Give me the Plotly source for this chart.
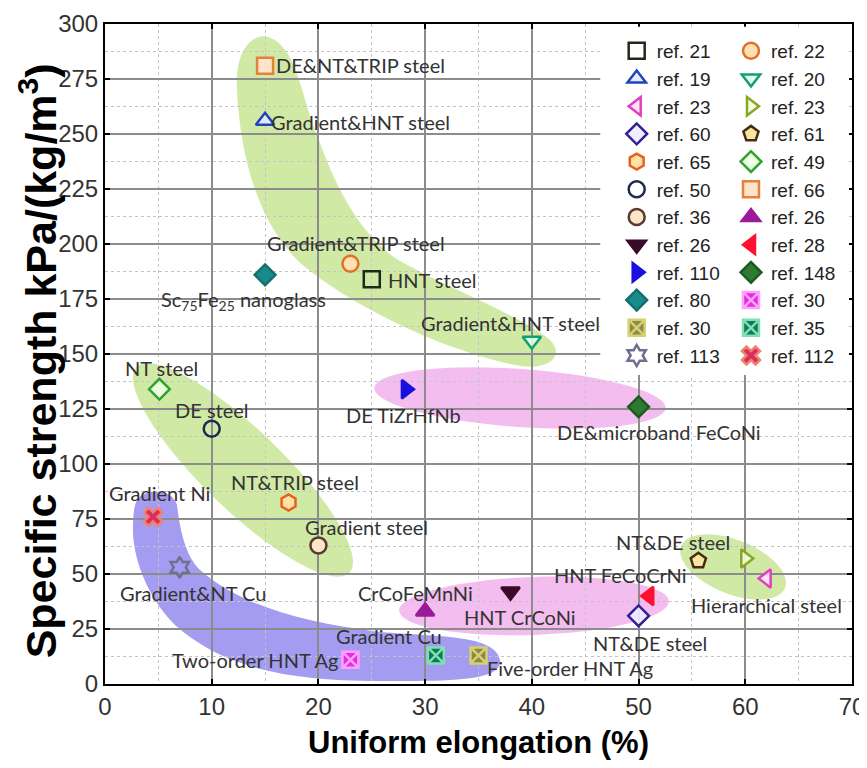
import numpy as np
import plotly.graph_objects as go

# ---------------- data ----------------
# left legend column
left_refs = ["ref. 21", "ref. 19", "ref. 23", "ref. 60", "ref. 65", "ref. 50",
             "ref. 36", "ref. 26", "ref. 110", "ref. 80", "ref. 30", "ref. 113"]
left_x = [25, 15, 62, 50, 17.2, 10, 20, 38, 28.2, 15, 35, 7]
left_y = [184, 256, 48, 31, 82.5, 116, 63, 42, 134, 186, 13, 53]

# right legend column
right_refs = ["ref. 22", "ref. 20", "ref. 23", "ref. 61", "ref. 49", "ref. 66",
              "ref. 26", "ref. 28", "ref. 148", "ref. 30", "ref. 35", "ref. 112"]
right_x = [23, 40, 60, 55.6, 5.1, 15, 30, 51, 50, 23, 31, 4.5]
right_y = [191, 156, 57, 56, 134, 281, 33, 40, 126, 11, 13, 76]

# material labels
label_text = ["DE&NT&TRIP steel", "Gradient&HNT steel", "Gradient&TRIP steel", "HNT steel",
              "Sc<sub>75</sub>Fe<sub>25</sub> nanoglass", "Gradient&HNT steel", "NT steel", "DE steel",
              "NT&TRIP steel", "Gradient steel", "Gradient Ni", "Gradient&NT Cu", "DE TiZrHfNb",
              "DE&microband FeCoNi", "CrCoFeMnNi", "HNT CrCoNi", "HNT FeCoCrNi", "NT&DE steel",
              "NT&DE steel", "Hierarchical steel", "Gradient Cu", "Two-order HNT Ag", "Five-order HNT Ag"]
label_x = [23.9, 23.9, 23.5, 30.7, 13.0, 38.0, 5.25, 10.0, 17.8, 24.5, 5.06, 8.2, 28.0,
           51.9, 29.1, 38.9, 48.3, 51.1, 53.2, 62.0, 26.6, 14.1, 43.6]
label_y = [281.4, 255.5, 200.4, 183.6, 174.5, 164.0, 143.6, 124.5, 92.0, 71.4, 86.8, 41.4, 122.3,
           114.5, 41.4, 30.5, 49.5, 18.6, 64.6, 35.9, 21.8, 10.9, 7.3]

x_ticks = [0, 10, 20, 30, 40, 50, 60, 70]
y_ticks = [0, 25, 50, 75, 100, 125, 150, 175, 200, 225, 250, 275, 300]

x_title = "<b>Uniform elongation (%)</b>"
y_title = "<b>Specific strength kPa/(kg/m<sup>3</sup>)</b>"

# ---------------- styles ----------------
left_style = [
    dict(symbol="square", color="rgba(255,255,255,0)", line="#1f2a1a"),
    dict(symbol="triangle-up", color="rgba(225,235,255,0.9)", line="#2244bb"),
    dict(symbol="triangle-left", color="rgba(255,225,245,0.9)", line="#e040c0"),
    dict(symbol="diamond", color="rgba(240,235,255,0.9)", line="#302090"),
    dict(symbol="hexagon", color="#ffe2a8", line="#e8601a"),
    dict(symbol="circle", color="rgba(255,255,255,0)", line="#1c2a50"),
    dict(symbol="circle", color="#fbe6c8", line="#5a3a30"),
    dict(symbol="triangle-down", color="#3a0a2a", line="#3a0a2a"),
    dict(symbol="triangle-right", color="#1a10e0", line="#1a10e0"),
    dict(symbol="diamond", color="#1a8a8a", line="#137070"),
    dict(symbol="square-x", color="#8c8a4a", line="#d8d070"),
    dict(symbol="hexagram-open", color="#6f6f8f", line="#6f6f8f"),
]
right_style = [
    dict(symbol="circle", color="#ffe0b0", line="#e0702a"),
    dict(symbol="triangle-down", color="rgba(225,250,235,0.9)", line="#12a070"),
    dict(symbol="triangle-right", color="rgba(245,250,225,0.9)", line="#88a820"),
    dict(symbol="pentagon", color="#f5e6a0", line="#4a2a10"),
    dict(symbol="diamond", color="rgba(235,255,225,0.9)", line="#30a030"),
    dict(symbol="square", color="#fde4cc", line="#e8803a"),
    dict(symbol="triangle-up", color="#9a1a9a", line="#9a1a9a"),
    dict(symbol="triangle-left", color="#ff1030", line="#ff1030"),
    dict(symbol="diamond", color="#2e7a30", line="#1e5a20"),
    dict(symbol="square-x", color="#e030e0", line="#ffa0ff"),
    dict(symbol="square-x", color="#0a7a5a", line="#80e0b0"),
    dict(symbol="x", color="#d8305a", line="#f08070"),
]

fig = go.Figure()

def add_traces(refs, xs, ys, styles, legend):
    for r, x, y, st in zip(refs, xs, ys, styles):
        fig.add_trace(go.Scatter(
            x=[x], y=[y], mode="markers", name=r, legend=legend,
            marker=dict(symbol=st["symbol"], size=16, color=st["color"],
                        line=dict(color=st["line"], width=2.5)),
            hoverinfo="name+x+y"))

add_traces(left_refs, left_x, left_y, left_style, "legend")
add_traces(right_refs, right_x, right_y, right_style, "legend2")

# ---------------- shaded regions ----------------
SX, SY = 747 / 70.0, 660 / 300.0   # pixels per data unit (for shape geometry only)

def ellipse_path(cx, cy, a, b, ang, n=72):
    t = np.linspace(0, 2 * np.pi, n, endpoint=False)
    th = np.deg2rad(ang)
    ox = a * np.cos(t) * np.cos(th) - b * np.sin(t) * np.sin(th)
    oy = a * np.cos(t) * np.sin(th) + b * np.sin(t) * np.cos(th)
    xs = cx + ox / SX
    ys = cy - oy / SY
    return "M " + " L ".join(f"{x:.3f},{y:.3f}" for x, y in zip(xs, ys)) + " Z"

GREEN = "#d0eaa6"
PINK = "#f4bdf0"
BLUE = "#a49cf0"

green_top = ("M 14.81,294.5 C 13.12,293.6 12.18,283.6 12.37,270.0 "
             "C 12.65,242.7 14.06,210.9 18.28,191.4 "
             "C 22.96,172.3 31.40,151.8 38.89,144.5 "
             "C 41.71,142.7 43.11,149.5 41.71,156.4 "
             "C 38.89,167.7 31.40,181.4 27.18,193.6 "
             "C 22.96,208.6 21.09,233.6 19.68,251.8 "
             "C 18.28,270.0 17.81,292.7 14.81,294.5 Z")
blue_band = ("M 3.00,83.6 C 3.75,89.1 6.28,89.1 6.75,81.4 "
             "C 7.03,70.0 7.50,58.6 8.90,51.8 "
             "C 12.65,35.9 18.28,28.2 25.77,23.6 "
             "C 31.40,21.4 36.55,22.3 37.02,10.9 "
             "C 37.30,0.5 31.40,1.4 25.77,1.4 "
             "C 16.40,1.4 10.78,8.6 6.56,26.8 "
             "C 3.75,40.5 2.62,58.6 2.62,70.0 "
             "C 2.62,76.8 2.72,80.9 3.00,83.6 Z")

shapes = [
    dict(type="path", path=green_top, fillcolor=GREEN),
    dict(type="path", path=ellipse_path(12.93, 97.3, 148, 40, 44), fillcolor=GREEN),
    dict(type="path", path=ellipse_path(58.86, 53.2, 56, 27, 22), fillcolor=GREEN),
    dict(type="path", path=ellipse_path(38.89, 130.0, 146, 29, 4), fillcolor=PINK),
    dict(type="path", path=ellipse_path(40.2, 35.5, 135, 29, -2), fillcolor=PINK),
    dict(type="path", path=blue_band, fillcolor=BLUE),
]
for s in shapes:
    s.update(xref="x", yref="y", layer="below", line=dict(width=0))
# white backdrop for the legend
shapes.append(dict(type="rect", xref="paper", yref="paper", x0=0.663, x1=0.996, y0=0.474, y1=0.996,
                   fillcolor="white", line=dict(width=0), layer="above"))

annotations = [
    dict(x=x, y=y, text=t, showarrow=False, xref="x", yref="y", xanchor="center", yanchor="middle",
         font=dict(family="Lato", size=20, color="#333333"))
    for t, x, y in zip(label_text, label_x, label_y)
]
# axis titles
annotations.append(dict(text=x_title, xref="paper", yref="paper", x=0.5, y=-0.088,
                        xanchor="center", yanchor="middle", showarrow=False,
                        font=dict(family="Liberation Sans", size=31, color="black")))
annotations.append(dict(text=y_title, xref="paper", yref="paper", x=-0.09, y=0.49, textangle=-90,
                        xanchor="center", yanchor="middle", showarrow=False,
                        font=dict(family="Liberation Sans", size=43, color="black")))

axis_common = dict(
    showline=True, linecolor="black", linewidth=2, mirror="ticks",
    ticks="inside", ticklen=5, tickcolor="black", tickwidth=1.5,
    showgrid=True, gridcolor="#8c8c8c", gridwidth=1.5, zeroline=False,
    automargin=False,
    tickfont=dict(family="Liberation Sans", size=24, color="#333333"),
)

# the page body adds an 8px offset, so the figure is shrunk to stay inside the window
fig.update_layout(
    width=859, height=760,
    margin=dict(l=97, r=15, t=16, b=84, autoexpand=False),
    paper_bgcolor="white", plot_bgcolor="white",
    shapes=shapes, annotations=annotations,
    xaxis=dict(range=[0, 70], tickvals=x_ticks,
               minor=dict(dtick=5, showgrid=True, gridcolor="#c4c4c4", griddash="dot", gridwidth=1, ticks=""),
               **axis_common),
    yaxis=dict(range=[0, 300], tickvals=y_ticks,
               minor=dict(dtick=12.5, showgrid=True, gridcolor="#c4c4c4", griddash="dot", gridwidth=1, ticks=""),
               **axis_common),
    legend=dict(x=0.685, y=0.988, xanchor="left", yanchor="top", bgcolor="white",
                font=dict(family="Liberation Sans", size=19, color="#222222"),
                tracegroupgap=0, itemclick=False),
    legend2=dict(x=0.838, y=0.988, xanchor="left", yanchor="top", bgcolor="white",
                 font=dict(family="Liberation Sans", size=19, color="#222222"),
                 tracegroupgap=0, itemclick=False),
    showlegend=True,
)

fig.write_html("out.html")
